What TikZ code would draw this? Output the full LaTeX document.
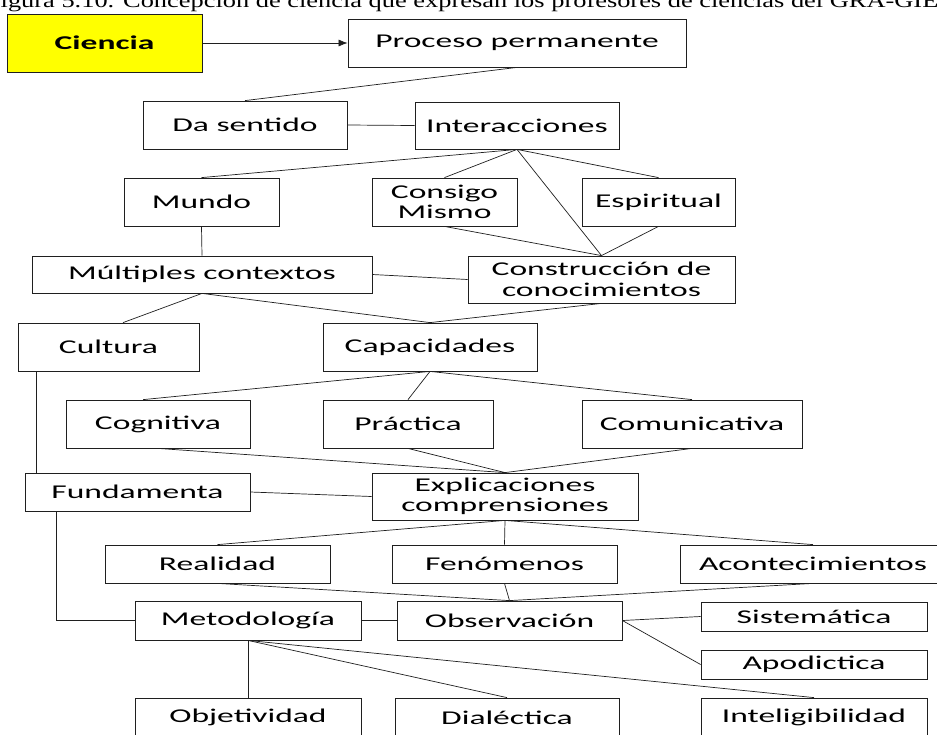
\documentclass[tikz,border=0pt]{standalone}
\usepackage{fontspec}
\usetikzlibrary{arrows.meta,calc}
\newfontfamily\boxfont[FakeStretch=1.72]{Carlito}
\newfontfamily\titlefont[FakeStretch=1.32]{Liberation Serif}
\definecolor{inkline}{gray}{0.12}
\tikzset{
  box/.style={draw=inkline, line width=0.8pt, fill=white, inner sep=0pt,
    align=center, text=black, font=\boxfont\fontsize{19.5}{20.5}\selectfont},
  keybox/.style={box, fill={rgb,255:red,255;green,255;blue,0}, font=\boxfont\bfseries\fontsize{19.5}{20.5}\selectfont},
  link/.style={draw=inkline, line width=0.7pt},
}
% box given by its corners (x1,y1) and (x2,y2), y measured downwards
\newcommand\mapbox[7][box]{%
  \node[#1, minimum width={#5-#3}, minimum height={#6-#4}] (#2)
    at ({(#3+#5)/2},{(#4+#6)/2}) {#7};}
\begin{document}
\begin{tikzpicture}[x=1pt,y=-1pt]
\useasboundingbox (0,0) rectangle (937,734);
\fill[white] (0,0) rectangle (937,734);

% caption line, cut by the top edge
\node[anchor=base west, inner sep=0pt, font=\titlefont\fontsize{20}{20}\selectfont] (caption)
  at (0.5,7.5) {igura 5.10. Concepción de ciencia que expresan los profesores de ciencias del GRA-GIE};

% concept boxes
\mapbox[keybox]{ciencia}{7}{14}{202}{72}{Ciencia}
\mapbox{proceso}{348}{19}{686}{67}{Proceso permanente}
\mapbox{sentido}{143}{101}{347}{149}{Da sentido}
\mapbox{interac}{415}{102}{619}{149}{Interacciones}
\mapbox{mundo}{124}{178}{279}{226}{Mundo}
\mapbox{consigo}{372}{178}{517}{226}{Consigo\\Mismo}
\mapbox{espiritual}{582}{178}{735}{226}{Espiritual}
\mapbox{multiples}{32}{256}{372}{293}{Múltiples contextos}
\mapbox{construccion}{468}{256}{735}{303}{Construcción de\\conocimientos}
\mapbox{cultura}{18}{323}{199}{371}{Cultura}
\mapbox{capacidades}{323}{323}{537}{371}{Capacidades}
\mapbox{cognitiva}{66}{400}{250}{448}{Cognitiva}
\mapbox{practica}{323}{400}{493}{448}{Práctica}
\mapbox{comunicativa}{582}{400}{802}{448}{Comunicativa}
\mapbox{fundamenta}{25}{473}{250}{511}{Fundamenta}
\mapbox{explicaciones}{372}{473}{638}{520}{Explicaciones\\comprensiones}
\mapbox{realidad}{105}{545}{330}{583}{Realidad}
\mapbox{fenomenos}{392}{545}{617}{583}{Fenómenos}
\mapbox{aconte}{680}{545}{946}{583}{Acontecimientos}
\mapbox{metodologia}{135}{601}{361}{640}{Metodología}
\mapbox{observacion}{397}{601}{622}{640}{Observación}
\mapbox{sistematica}{701}{602}{927}{631}{Sistemática}
\mapbox{apodictica}{701}{650}{927}{679}{Apodictica}
\mapbox{objetividad}{135}{698}{361}{737}{Objetividad}
\mapbox{dialectica}{395}{698}{619}{737}{Dialéctica}
\mapbox{inteligib}{701}{698}{927}{737}{Inteligibilidad}

% attachment points off the box centres
\coordinate (culturaTop) at ($(cultura.north west)!0.58!(cultura.north east)$);
\coordinate (culturaFoot) at ($(cultura.south west)!0.105!(cultura.south east)$);
\coordinate (fundaFoot) at ($(fundamenta.south west)!0.142!(fundamenta.south east)$);
\coordinate (cognitivaTop) at ($(cognitiva.north west)!0.42!(cognitiva.north east)$);

% connectors
\draw[link, -{Latex[length=9pt,width=7pt]}] (ciencia.east) -- (proceso.west);
\draw[link] (proceso.south) -- (sentido.north);
\draw[link] (sentido.east) -- (interac.west);
\draw[link] (interac.south) -- (mundo.north);
\draw[link] (interac.south) -- (consigo.north);
\draw[link] (interac.south) -- (construccion.north);
\draw[link] (interac.south) -- (espiritual.north);
\draw[link] (consigo.south) -- (construccion.north);
\draw[link] (espiritual.south) -- (construccion.north);
\draw[link] (mundo.south) -- (multiples.north);
\draw[link] (multiples.east) -- (construccion.west);
\draw[link] (multiples.south) -- (culturaTop);
\draw[link] (multiples.south) -- (capacidades.north);
\draw[link] (construccion.south) -- (capacidades.north);
\draw[link] (culturaFoot) -- (culturaFoot |- fundamenta.north);
\draw[link] (capacidades.south) -- (cognitivaTop);
\draw[link] (capacidades.south) -- (practica.north);
\draw[link] (capacidades.south) -- (comunicativa.north);
\draw[link] (cognitiva.south) -- (explicaciones.north);
\draw[link] (practica.south) -- (explicaciones.north);
\draw[link] (comunicativa.south) -- (explicaciones.north);
\draw[link] (fundamenta.east) -- (explicaciones.west);
\draw[link] (explicaciones.south) -- (realidad.north);
\draw[link] (explicaciones.south) -- (fenomenos.north);
\draw[link] (explicaciones.south) -- (aconte.north);
\draw[link] (realidad.south) -- (observacion.north);
\draw[link] (fenomenos.south) -- (observacion.north);
\draw[link] (aconte.south) -- (observacion.north);
\draw[link] (fundaFoot) |- (metodologia.west);
\draw[link] (metodologia.east) -- (observacion.west);
\draw[link] (observacion.east) -- (sistematica.west);
\draw[link] (observacion.east) -- (apodictica.west);
\draw[link] (metodologia.south) -- (objetividad.north);
\draw[link] (metodologia.south) -- (dialectica.north);
\draw[link] (metodologia.south) -- (inteligib.north);
\end{tikzpicture}
\end{document}
